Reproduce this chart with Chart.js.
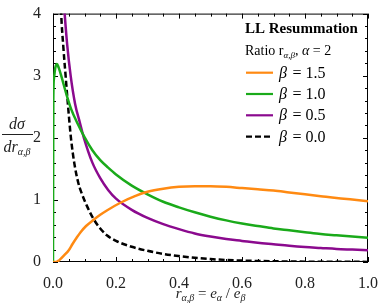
<!DOCTYPE html>
<html>
<head>
<meta charset="utf-8">
<script src="https://cdn.jsdelivr.net/npm/chart.js@4.4.1/dist/chart.umd.min.js"></script>
<style>
  html, body { margin: 0; padding: 0; background: #fff; }
  #wrap { width: 382px; height: 306px; position: relative; }
</style>
</head>
<body>
<div id="wrap"><canvas id="c"></canvas></div>
<script>
// values
var xB15 = [0, 0.01, 0.02, 0.036, 0.05, 0.062, 0.075, 0.0875, 0.105, 0.129, 0.15, 0.171, 0.2125, 0.26, 0.3, 0.35, 0.4, 0.45, 0.5, 0.55, 0.6, 0.65, 0.7, 0.75, 0.8, 0.85, 0.9, 0.95, 1.0];
var yB15 = [0, 0, 0.03, 0.11, 0.19, 0.29, 0.39, 0.48, 0.58, 0.68, 0.76, 0.83, 0.95, 1.06, 1.13, 1.18, 1.21, 1.22, 1.22, 1.21, 1.19, 1.17, 1.15, 1.12, 1.09, 1.06, 1.03, 1.005, 0.98];

var xB10 = [0, 0.001, 0.003, 0.007, 0.0125, 0.018, 0.026, 0.042, 0.057, 0.078, 0.1, 0.125, 0.15, 0.175, 0.2, 0.25, 0.3, 0.35, 0.4, 0.45, 0.5, 0.55, 0.6, 0.65, 0.7, 0.75, 0.8, 0.85, 0.9, 0.95, 1.0];
var yB10 = [0, 2.6, 2.95, 3.12, 3.19, 3.13, 3.0, 2.71, 2.47, 2.23, 2.01, 1.80, 1.64, 1.52, 1.41, 1.23, 1.09, 0.97, 0.88, 0.80, 0.73, 0.67, 0.62, 0.58, 0.54, 0.51, 0.48, 0.45, 0.43, 0.41, 0.39];

var xB05 = [0.03, 0.037, 0.045, 0.056, 0.07, 0.085, 0.098, 0.125, 0.15, 0.175, 0.2, 0.25, 0.3, 0.35, 0.4, 0.45, 0.5, 0.55, 0.6, 0.65, 0.7, 0.75, 0.8, 0.85, 0.9, 0.95, 1.0];
var yB05 = [4.5, 4.0, 3.5, 3.0, 2.55, 2.25, 2.0, 1.60, 1.35, 1.16, 1.02, 0.84, 0.71, 0.61, 0.53, 0.46, 0.41, 0.37, 0.34, 0.31, 0.285, 0.26, 0.24, 0.225, 0.21, 0.20, 0.19];

var xB00 = [0.021, 0.026, 0.033, 0.04, 0.046, 0.052, 0.058, 0.068, 0.08, 0.09, 0.108, 0.129, 0.15, 0.171, 0.2, 0.25, 0.3, 0.35, 0.4, 0.45, 0.5, 0.55, 0.6, 0.7, 0.8, 0.9, 1.0];
var yB00 = [4.8, 4.0, 3.45, 3.0, 2.62, 2.26, 1.95, 1.58, 1.28, 1.12, 0.90, 0.69, 0.54, 0.43, 0.34, 0.245, 0.18, 0.13, 0.095, 0.067, 0.047, 0.033, 0.023, 0.012, 0.006, 0.003, 0.002];

var seriesNames = ['1.5', '1.0', '0.5', '0.0'];
var xTicks = [0, 0.2, 0.4, 0.6, 0.8, 1.0];
var yTicks = [0, 1, 2, 3, 4];

var SERIF = '"Liberation Serif", "DejaVu Serif", serif';
Chart.defaults.font.family = SERIF;

function pts(xs, ys) {
    return xs.map(function (x, i) { return { x: x, y: ys[i] }; });
}

// draws a row of text pieces (for subscripts etc.)
function drawRuns(ctx, x, y, runs, align) {
    var w = 0;
    runs.forEach(function (r) { ctx.font = r.f; w += ctx.measureText(r.t).width + (r.pad || 0); });
    var cx = align === 'center' ? x - w / 2 : x;
    ctx.textAlign = 'left';
    ctx.textBaseline = 'alphabetic';
    runs.forEach(function (r) {
        ctx.font = r.f;
        ctx.fillText(r.t, cx, y + (r.dy || 0));
        cx += ctx.measureText(r.t).width + (r.pad || 0);
    });
}

var frame = {
    id: 'frame',
    beforeDatasetsDraw: function (chart) {
        var ctx = chart.ctx, a = chart.chartArea;
        var xs = chart.scales.x, ys = chart.scales.y;
        ctx.save();
        ctx.strokeStyle = '#000';
        ctx.lineWidth = 1;
        ctx.strokeRect(a.left + 0.5, a.top + 0.5, a.width - 1, a.height - 1);
        ctx.beginPath();
        for (var i = 0; i <= 20; i++) {
            var px = Math.round(xs.getPixelForValue(i * 0.05)) + 0.5;
            var len = (i % 4 === 0) ? 5 : 3;
            ctx.moveTo(px, a.bottom); ctx.lineTo(px, a.bottom - len);
            ctx.moveTo(px, a.top); ctx.lineTo(px, a.top + len);
        }
        for (var j = 0; j <= 20; j++) {
            var py = Math.round(ys.getPixelForValue(j * 0.2)) + 0.5;
            var l2 = (j % 5 === 0) ? 5 : 3;
            ctx.moveTo(a.left, py); ctx.lineTo(a.left + l2, py);
            ctx.moveTo(a.right, py); ctx.lineTo(a.right - l2, py);
        }
        ctx.stroke();
        ctx.restore();
    },
    afterDraw: function (chart) {
        var ctx = chart.ctx, a = chart.chartArea;
        ctx.save();
        ctx.fillStyle = '#222';
        ctx.strokeStyle = '#222';

        // y axis title: d sigma / d r_{a,b}
        var it = 'italic 16px ' + SERIF, sub = 'italic 10px ' + SERIF;
        drawRuns(ctx, 17, 129, [{ t: 'd\u03C3', f: it }], 'center');
        ctx.lineWidth = 1;
        ctx.beginPath(); ctx.moveTo(2, 134.5); ctx.lineTo(33, 134.5); ctx.stroke();
        drawRuns(ctx, 17, 152, [{ t: 'dr', f: it }, { t: '\u03B1,\u03B2', f: sub, dy: 3 }], 'center');

        // x axis title
        var it2 = 'italic 15px ' + SERIF, rm2 = '15px ' + SERIF, sub2 = 'italic 10px ' + SERIF;
        drawRuns(ctx, (a.left + a.right) / 2, 298, [
            { t: 'r', f: it2 }, { t: '\u03B1,\u03B2', f: sub2, dy: 3 },
            { t: ' = ', f: rm2 }, { t: 'e', f: it2 }, { t: '\u03B1', f: sub2, dy: 3 },
            { t: ' / ', f: rm2 }, { t: 'e', f: it2 }, { t: '\u03B2', f: sub2, dy: 3 }
        ], 'center');

        // legend
        var lx = 245;
        ctx.fillStyle = '#000';
        drawRuns(ctx, lx, 33, [{ t: 'LL Resummation', f: 'bold 15px ' + SERIF }]);
        drawRuns(ctx, lx, 55, [
            { t: 'Ratio r', f: '14px ' + SERIF }, { t: '\u03B1,\u03B2', f: 'italic 9px ' + SERIF, dy: 3 },
            { t: ', ', f: '14px ' + SERIF }, { t: '\u03B1', f: 'italic 14px ' + SERIF }, { t: ' = 2', f: '14px ' + SERIF }
        ]);
        chart.data.datasets.forEach(function (ds, i) {
            var y = 72.7 + i * 21.3;
            ctx.save();
            ctx.strokeStyle = ds.borderColor;
            ctx.lineWidth = 2.2;
            ctx.setLineDash(ds.borderDash || []);
            ctx.beginPath(); ctx.moveTo(lx + 1, y); ctx.lineTo(lx + 28, y); ctx.stroke();
            ctx.restore();
            drawRuns(ctx, lx + 34, y + 5, [
                { t: '\u03B2 ', f: 'italic 16px ' + SERIF, pad: 1.5 },
                { t: '=', f: '16px ' + SERIF },
                { t: ' ' + seriesNames[i], f: '16px ' + SERIF }
            ]);
        });
        ctx.restore();
    }
};

var ctx = document.getElementById('c').getContext('2d');
var chart = new Chart(ctx, {
    type: 'line',
    data: {
        datasets: [
            { data: pts(xB15, yB15), borderColor: '#ff8a12', borderWidth: 2.5 },
            { data: pts(xB10, yB10), borderColor: '#1aaa1a', borderWidth: 2.5 },
            { data: pts(xB05, yB05), borderColor: '#8b0a8e', borderWidth: 2.5 },
            { data: pts(xB00, yB00), borderColor: '#000000', borderWidth: 2.5, borderDash: [6, 3] }
        ]
    },
    options: {
        responsive: true,
        maintainAspectRatio: false,
        animation: false,
        layout: { padding: { top: 8, right: 9, left: 0, bottom: 0 } },
        elements: {
            point: { radius: 0 },
            line: { cubicInterpolationMode: 'monotone', fill: false }
        },
        plugins: { legend: { display: false }, tooltip: { enabled: false } },
        scales: {
            x: {
                type: 'linear', min: 0, max: 1,
                grid: { display: false }, border: { display: false },
                afterFit: function (s) { s.height = 44; },
                afterBuildTicks: function (s) { s.ticks = xTicks.map(function (v) { return { value: v }; }); },
                ticks: {
                    padding: 4, color: '#222',
                    font: { family: SERIF, size: 16 },
                    maxRotation: 0,
                    callback: function (v) { return v.toFixed(1); }
                }
            },
            y: {
                min: 0, max: 4,
                grid: { display: false }, border: { display: false },
                afterFit: function (s) { s.width = 53; },
                afterBuildTicks: function (s) { s.ticks = yTicks.map(function (v) { return { value: v }; }); },
                ticks: {
                    padding: 4, color: '#222',
                    font: { family: SERIF, size: 16 },
                    callback: function (v) { return String(v); }
                }
            }
        }
    },
    plugins: [frame]
});
</script>
</body>
</html>
